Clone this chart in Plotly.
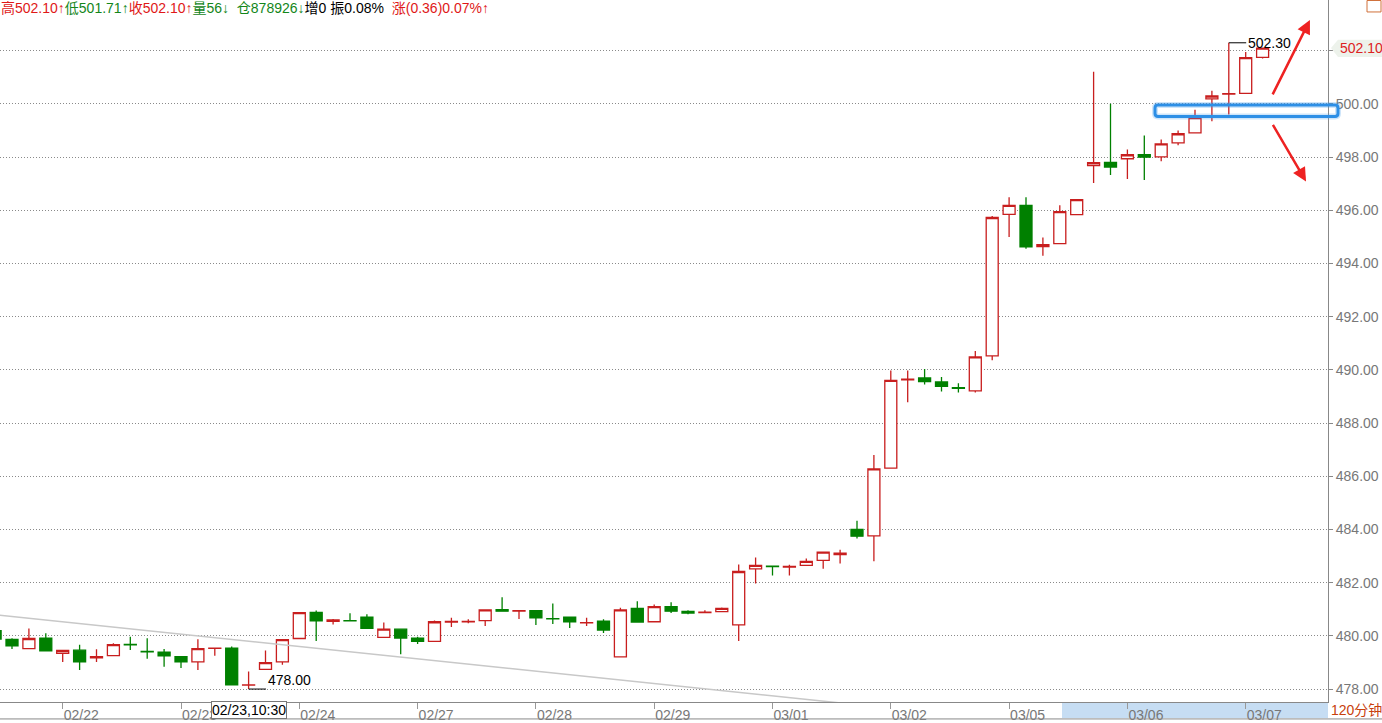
import plotly.graph_objects as go

# ---------------- data (120-minute bars, index = bar number) ----------------
bar_idx = list(range(-1, 75))
opens = [480.20, 479.87, 479.52, 479.91, 479.34, 479.46, 479.17, 479.26, 479.68, 479.42,
         479.39, 479.22, 479.02, 479.53, 479.54, 478.15, 478.74, 479.02, 479.90, 480.88,
         480.55, 480.57, 480.70, 479.94, 480.25, 479.91, 479.79, 480.52, 480.53, 480.57,
         480.99, 480.93, 480.95, 480.65, 480.70, 480.49, 480.55, 479.21, 481.03, 480.53,
         481.10, 480.92, 480.87, 480.91, 480.41, 482.52, 482.62, 482.59, 482.65, 482.84,
         483.06, 484.00, 483.76, 486.31, 489.63, 489.70, 489.55, 489.33, 489.21, 490.53,
         495.85, 496.19, 494.64, 494.75, 495.84, 497.68, 497.80, 497.94, 498.09, 498.01,
         498.54, 498.91, 500.19, 500.37, 500.40, 501.75]
highs = [480.26, 479.91, 480.28, 480.10, 479.45, 479.67, 479.50, 479.72, 479.97, 479.91,
         479.51, 479.22, 479.87, 479.56, 479.60, 478.66, 479.45, 479.86, 480.87, 480.95,
         480.63, 480.85, 480.81, 480.50, 480.28, 479.97, 480.58, 480.68, 480.62, 480.98,
         481.45, 480.96, 480.95, 481.22, 480.73, 480.68, 480.62, 481.06, 481.30, 481.18,
         481.26, 480.96, 480.96, 481.07, 482.68, 482.95, 482.62, 482.67, 482.91, 483.15,
         483.24, 484.33, 486.80, 489.98, 489.98, 490.03, 489.73, 489.50, 490.71, 495.79,
         496.49, 496.49, 494.98, 496.19, 496.40, 501.21, 500.01, 498.29, 498.81, 498.66,
         499.00, 499.78, 500.50, 502.30, 501.95, 502.10]
lows = [479.80, 479.51, 479.52, 479.44, 479.02, 478.72, 479.02, 479.26, 479.47, 479.14,
        478.84, 478.79, 478.72, 479.25, 478.16, 478.00, 478.74, 478.91, 479.90, 479.81,
        480.43, 480.56, 480.28, 479.94, 479.31, 479.69, 479.79, 480.33, 480.47, 480.37,
        480.93, 480.63, 480.41, 480.45, 480.30, 480.37, 480.11, 479.21, 480.52, 480.53,
        480.86, 480.81, 480.87, 480.91, 479.81, 481.97, 482.27, 482.27, 482.65, 482.52,
        482.72, 483.66, 482.81, 486.31, 488.78, 489.45, 489.19, 489.15, 489.15, 490.36,
        495.00, 494.56, 494.29, 494.75, 495.84, 497.03, 497.33, 497.18, 497.14, 497.85,
        498.45, 498.91, 499.35, 499.60, 500.40, 501.71]
closes = [479.88, 479.62, 479.90, 479.44, 479.45, 479.02, 479.22, 479.67, 479.66, 479.40,
          479.25, 479.02, 479.52, 479.54, 478.16, 478.16, 478.99, 479.86, 480.87, 480.56,
          480.60, 480.56, 480.28, 480.25, 479.92, 479.79, 480.53, 480.54, 480.54, 480.98,
          480.93, 480.95, 480.68, 480.64, 480.53, 480.50, 480.22, 480.98, 480.52, 481.10,
          480.93, 480.86, 480.89, 481.03, 482.42, 482.65, 482.60, 482.61, 482.80, 483.15,
          483.11, 483.75, 486.28, 489.61, 489.65, 489.56, 489.38, 489.31, 490.49, 495.73,
          496.19, 494.63, 494.71, 495.95, 496.40, 497.79, 497.63, 498.09, 498.00, 498.50,
          498.88, 499.49, 500.30, 500.39, 501.74, 502.10]

day_ticks = [3, 10, 17, 24, 31, 38, 45, 52, 59, 66, 73]
day_labels = ["02/22", "02/23", "02/24", "02/27", "02/28", "02/29",
              "03/01", "03/02", "03/05", "03/06", "03/07"]
price_ticks = [478, 480, 482, 484, 486, 488, 490, 492, 494, 496, 498, 500, 502]
trend_x = [-1, 52]
trend_y = [480.79, 477.28]
cursor_bar = 14
cursor_label = "02/23,10:30"
period_label = "120分钟"
last_price = 502.10

RED = "#c81e1e"
GREEN = "#008000"

X_RANGE = [-0.71, 77.87]
Y_RANGE = [477.513, 503.909]
PLOT_W = 1328.0
PLOT_H = 704.0

fig = go.Figure()

# trend line (behind candles)
fig.add_trace(go.Scatter(x=trend_x, y=trend_y, mode="lines",
                         line=dict(color="#c8c8c8", width=1.5),
                         hoverinfo="skip", showlegend=False))

fig.add_trace(go.Candlestick(
    x=bar_idx, open=opens, high=highs, low=lows, close=closes,
    increasing=dict(line=dict(color=RED, width=1.3), fillcolor="white"),
    decreasing=dict(line=dict(color=GREEN, width=1.3), fillcolor=GREEN),
    whiskerwidth=0, showlegend=False, hoverinfo="skip"))

tick_text = [("" if v == 502 else f"{v:.2f}") for v in price_ticks]

fig.update_layout(
    width=1382, height=723,
    margin=dict(l=0, r=1382 - PLOT_W, t=0, b=723 - PLOT_H, pad=0),
    paper_bgcolor="white", plot_bgcolor="white",
    boxgap=0.0, boxgroupgap=0.29,
    font=dict(family="Liberation Sans, Arial, Noto Sans CJK SC, sans-serif", size=13, color="#777"),
    xaxis=dict(range=X_RANGE, rangeslider=dict(visible=False), showgrid=False, zeroline=False,
               tickmode="array", tickvals=day_ticks, ticktext=day_labels,
               ticks="outside", ticklen=6, tickcolor="#999", tickwidth=1,
               ticklabelposition="outside right",
               tickfont=dict(size=14, color="#777"),
               showline=True, linecolor="#888", linewidth=1, fixedrange=True),
    yaxis=dict(range=Y_RANGE, side="right", tickmode="array", tickvals=price_ticks,
               ticktext=tick_text, showgrid=True, gridcolor="#8a8a8a", gridwidth=1,
               griddash="1px,2px", zeroline=False,
               ticks="outside", ticklen=4, tickcolor="#888",
               tickfont=dict(size=14, color="#777"),
               showline=True, linecolor="#888", linewidth=1, fixedrange=True),
    showlegend=False,
)

# ---------------- decorations ----------------
shapes = []
# highlighted part of the time band
shapes.append(dict(type="rect", xref="paper", yref="paper", x0=1062 / PLOT_W, x1=1.0,
                   y0=-16 / PLOT_H, y1=0, fillcolor="#c6ddf3", line=dict(width=0), layer="below"))
# bottom border of time band
shapes.append(dict(type="line", xref="paper", yref="paper", x0=0, x1=1382 / PLOT_W,
                   y0=-17 / PLOT_H, y1=-17 / PLOT_H, line=dict(color="#888", width=1)))
# high / low markers
hi_i = max(range(len(highs)), key=lambda i: highs[i])
lo_i = min(range(len(lows)), key=lambda i: lows[i])
shapes.append(dict(type="line", xref="x", yref="y", x0=bar_idx[hi_i], x1=bar_idx[hi_i] + 1.03,
                   y0=highs[hi_i], y1=highs[hi_i], line=dict(color="black", width=1)))
shapes.append(dict(type="line", xref="x", yref="y", x0=bar_idx[lo_i], x1=bar_idx[lo_i] + 1.03,
                   y0=lows[lo_i], y1=lows[lo_i], line=dict(color="black", width=1)))

# blue rounded box around 500 zone
def rounded(x0, x1, y0, y1, rx, ry):
    return (f"M {x0+rx},{y0} L {x1-rx},{y0} Q {x1},{y0} {x1},{y0+ry} L {x1},{y1-ry} "
            f"Q {x1},{y1} {x1-rx},{y1} L {x0+rx},{y1} Q {x0},{y1} {x0},{y1-ry} "
            f"L {x0},{y0+ry} Q {x0},{y0} {x0+rx},{y0} Z")

bx0, bx1 = 1155 / PLOT_W, 1338 / PLOT_W
by0, by1 = 499.53, 499.96
path = rounded(bx0, bx1, by0, by1, 3 / PLOT_W, 0.11)
shapes.append(dict(type="path", xref="paper", yref="y", path=path,
                   line=dict(color="rgba(60,150,235,0.25)", width=6)))
shapes.append(dict(type="path", xref="paper", yref="y", path=path,
                   line=dict(color="#2d8fe6", width=3)))

# current price tag
tx0, tx1, tx2 = 1331 / PLOT_W, 1338 / PLOT_W, 1383 / PLOT_W
shapes.append(dict(type="path", xref="paper", yref="y",
                   path=f"M {tx0},{last_price} L {tx1},502.41 L {tx2},502.41 L {tx2},501.77 L {tx1},501.77 Z",
                   fillcolor="#edf2eb", line=dict(width=0)))
# small icon top right
shapes.append(dict(type="rect", xref="paper", yref="paper", x0=1367 / PLOT_W, x1=1381 / PLOT_W,
                   y0=(PLOT_H - 12) / PLOT_H, y1=(PLOT_H - 0.5) / PLOT_H,
                   line=dict(color="#d0703a", width=1), fillcolor="rgba(0,0,0,0)"))
fig.update_layout(shapes=shapes)

ann = []
R2 = "#e01818"
G2 = "#13861a"
header = (f'<span style="color:{R2}">高502.10↑</span>'
          f'<span style="color:{G2}">低501.71↑</span>'
          f'<span style="color:{R2}">收502.10↑</span>'
          f'<span style="color:{G2}">量56↓  仓878926↓</span>'
          f'<span style="color:#000">增0 振0.08%  </span>'
          f'<span style="color:{R2}">涨(0.36)0.07%↑</span>')
ann.append(dict(xref="paper", yref="paper", x=0, y=1, xanchor="left", yanchor="top",
                text=header, showarrow=False, font=dict(size=14), borderpad=0, yshift=1))
ann.append(dict(xref="x", yref="y", x=bar_idx[hi_i] + 1.1, y=highs[hi_i], xanchor="left",
                yanchor="middle", text=f"{highs[hi_i]:.2f}", showarrow=False,
                font=dict(size=14, color="black"), borderpad=0))
ann.append(dict(xref="x", yref="y", x=bar_idx[lo_i] + 1.1, y=lows[lo_i], xanchor="left",
                yanchor="bottom", text=f"{lows[lo_i]:.2f}", showarrow=False,
                font=dict(size=14, color="black"), borderpad=0))
ann.append(dict(xref="paper", yref="y", x=1339 / PLOT_W, y=last_price, xanchor="left",
                yanchor="middle", text=f"{last_price:.2f}", showarrow=False,
                font=dict(size=14, color="#dd2222"), borderpad=0))
ann.append(dict(xref="x", yref="paper", x=cursor_bar, y=-8 / PLOT_H, xanchor="center",
                yanchor="middle", text=cursor_label, showarrow=False,
                font=dict(size=14, color="black"), bgcolor="white",
                bordercolor="#777", borderwidth=1, borderpad=0))
ann.append(dict(xref="paper", yref="paper", x=1330 / PLOT_W, y=-8 / PLOT_H, xanchor="left",
                yanchor="middle", text=period_label, showarrow=False,
                font=dict(size=14, color="#c8400c"), borderpad=0))
# red arrows
ann.append(dict(xref="x", yref="y", x=76.8, y=503.16, ax=-38, ay=76, showarrow=True,
                arrowhead=2, arrowsize=1.1, arrowwidth=2.5, arrowcolor="#ee2222", text=""))
ann.append(dict(xref="x", yref="y", x=76.57, y=497.085, ax=-34, ay=-58, showarrow=True,
                arrowhead=2, arrowsize=1.1, arrowwidth=2.5, arrowcolor="#ee2222", text=""))
fig.update_layout(annotations=ann)

fig.write_html("out.html", config={"displayModeBar": False},
               post_script="document.body.style.margin='0px';document.body.style.overflow='hidden';")
